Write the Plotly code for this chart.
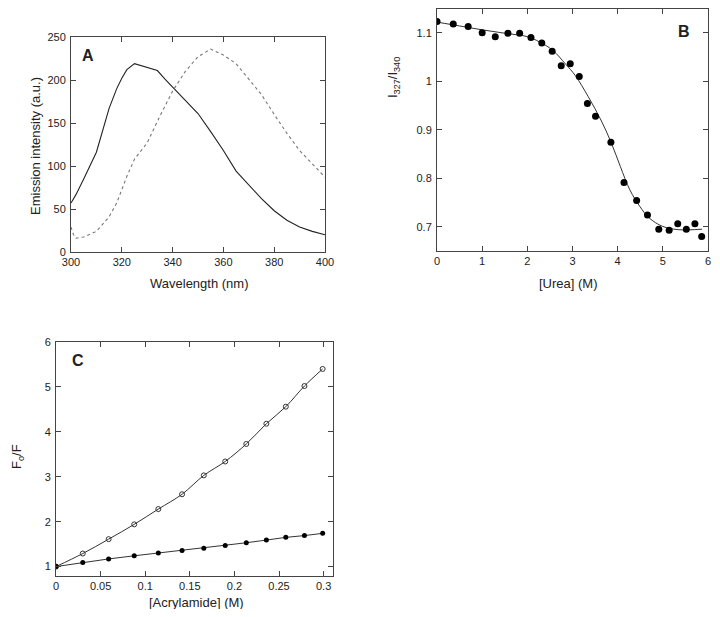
import plotly.graph_objects as go

# Panel A: emission spectra
wl_solid = [300, 302, 305, 310, 315, 318, 320, 322, 325, 330, 334, 337, 340, 345, 350,
            355, 360, 365, 370, 375, 380, 385, 390, 395, 400]
em_solid = [57, 67, 85, 116, 167, 190, 202, 212, 219, 215, 211, 201, 192, 176, 161,
            140, 118, 94, 78, 62, 48, 37, 29, 24, 20]
wl_dot = [300, 301, 302, 305, 310, 315, 318, 320, 322, 325, 330, 335, 340, 345, 350,
          355, 360, 365, 370, 375, 380, 385, 390, 395, 400]
em_dot = [29, 20, 16, 17.5, 24, 41, 57, 73, 88, 108, 127, 158, 187, 210, 227,
          236, 229, 219, 201, 183, 160, 138, 118, 103, 87]

# Panel B: urea denaturation
urea = [0, 0.36, 0.69, 1.0, 1.29, 1.57, 1.83, 2.08, 2.32, 2.55, 2.75, 2.95, 3.15,
        3.33, 3.51, 3.85, 4.14, 4.42, 4.66, 4.91, 5.14, 5.33, 5.52, 5.71, 5.86]
ratio = [1.123, 1.118, 1.113, 1.100, 1.092, 1.099, 1.099, 1.090, 1.079, 1.062, 1.032,
         1.036, 1.010, 0.954, 0.928, 0.874, 0.791, 0.754, 0.724, 0.695, 0.693, 0.706,
         0.695, 0.706, 0.680]
urea_fit = [0, 0.5, 1.0, 1.5, 2.0, 2.27, 2.56, 2.85, 3.06, 3.35, 3.63, 3.85, 4.06,
            4.27, 4.49, 4.70, 4.99, 5.34, 5.87]
ratio_fit = [1.122, 1.114, 1.106, 1.099, 1.092, 1.081, 1.064, 1.035, 1.012, 0.968,
             0.920, 0.875, 0.824, 0.776, 0.742, 0.718, 0.701, 0.694, 0.695]

# Panel C: acrylamide quenching
acryl = [0, 0.030, 0.059, 0.0877, 0.1147, 0.1413, 0.1657, 0.1897, 0.2133, 0.2358,
         0.2576, 0.2785, 0.2989]
fo_open = [1.0, 1.29, 1.61, 1.94, 2.28, 2.61, 3.03, 3.34, 3.73, 4.18, 4.56, 5.02, 5.40]
fo_filled = [1.0, 1.09, 1.17, 1.24, 1.30, 1.36, 1.41, 1.47, 1.53, 1.59, 1.65, 1.69, 1.74]

# The page body has an 8 px margin; a 704x601 figure fills the 720x617 window exactly.
OFF = 8
W, H = 720 - 2 * OFF, 617 - 2 * OFF
FONT = "Liberation Sans, Arial, sans-serif"
INK = "#222"


def dom_x(a, b):
    return [(a - OFF) / W, (b - OFF) / W]


def dom_y(top, bottom):
    return [1 - (bottom - OFF) / H, 1 - (top - OFF) / H]


fig = go.Figure()
fig.add_trace(go.Scatter(x=wl_solid, y=em_solid, mode="lines",
                         line=dict(color="#222", width=1.1), xaxis="x", yaxis="y"))
fig.add_trace(go.Scatter(x=wl_dot, y=em_dot, mode="lines",
                         line=dict(color="#777", width=1.1, dash="dot"), xaxis="x", yaxis="y"))
fig.add_trace(go.Scatter(x=urea_fit, y=ratio_fit, mode="lines", line_shape="spline",
                         line=dict(color="#333", width=1), xaxis="x2", yaxis="y2"))
fig.add_trace(go.Scatter(x=urea, y=ratio, mode="markers",
                         marker=dict(color="black", size=7), xaxis="x2", yaxis="y2"))
fig.add_trace(go.Scatter(x=acryl, y=fo_open, mode="lines+markers", line_shape="spline",
                         line=dict(color="#333", width=1),
                         marker=dict(symbol="circle-open", color="#333", size=5, line=dict(width=1)),
                         xaxis="x3", yaxis="y3"))
fig.add_trace(go.Scatter(x=acryl, y=fo_filled, mode="lines+markers",
                         line=dict(color="#333", width=1),
                         marker=dict(symbol="circle", color="black", size=5),
                         xaxis="x3", yaxis="y3"))

ax_common = dict(showgrid=False, zeroline=False, showline=True, linecolor="#444",
                 linewidth=1, mirror="ticks", ticks="inside", ticklen=5, tickcolor="#444",
                 automargin=False, ticklabeloverflow="allow",
                 tickfont=dict(family=FONT, size=11, color=INK))
y_common = dict(ax_common, ticklabelstandoff=2)

fig.update_layout(
    template="none",
    width=W, height=H, margin=dict(l=0, r=0, t=0, b=0, autoexpand=False),
    paper_bgcolor="white", plot_bgcolor="white", showlegend=False,
    font=dict(family=FONT, color=INK),
    xaxis=dict(domain=dom_x(71, 325), range=[300, 400], dtick=20, anchor="y", **ax_common),
    yaxis=dict(domain=dom_y(37, 252), range=[0, 250], dtick=50, anchor="x", **y_common),
    xaxis2=dict(domain=dom_x(437, 708), range=[0, 6], dtick=1, anchor="y2", **ax_common),
    yaxis2=dict(domain=dom_y(8.5, 251), range=[0.65, 1.15], tick0=0.7, dtick=0.1,
                anchor="x2", **y_common),
    xaxis3=dict(domain=dom_x(56, 333), range=[0, 0.3105], dtick=0.05, anchor="y3", **ax_common),
    yaxis3=dict(domain=dom_y(342, 576), range=[0.79, 6], dtick=1, anchor="x3", **y_common),
)

ann = []


def label(text, x, y, size=13, angle=0, bold=False):
    ann.append(dict(text=f"<b>{text}</b>" if bold else text, x=(x - OFF) / W,
                    y=1 - (y - OFF) / H,
                    xref="paper", yref="paper", showarrow=False, textangle=angle,
                    xanchor="center", yanchor="middle",
                    font=dict(family=FONT, size=size, color=INK)))


label("A", 88, 55, size=16, bold=True)
label("B", 684, 32, size=16, bold=True)
label("C", 78, 360, size=16, bold=True)
label("Emission intensity (a.u.)", 35, 146, angle=-90)
label("Wavelength (nm)", 199, 283)
label("I<sub>327</sub>/I<sub>340</sub>", 393, 78, angle=-90)
label("[Urea] (M)", 568, 283)
label("F<sub>o</sub>/F", 17, 457, angle=-90)
label("[Acrylamide] (M)", 196, 602)
fig.update_layout(annotations=ann)

fig.write_html("out.html")
